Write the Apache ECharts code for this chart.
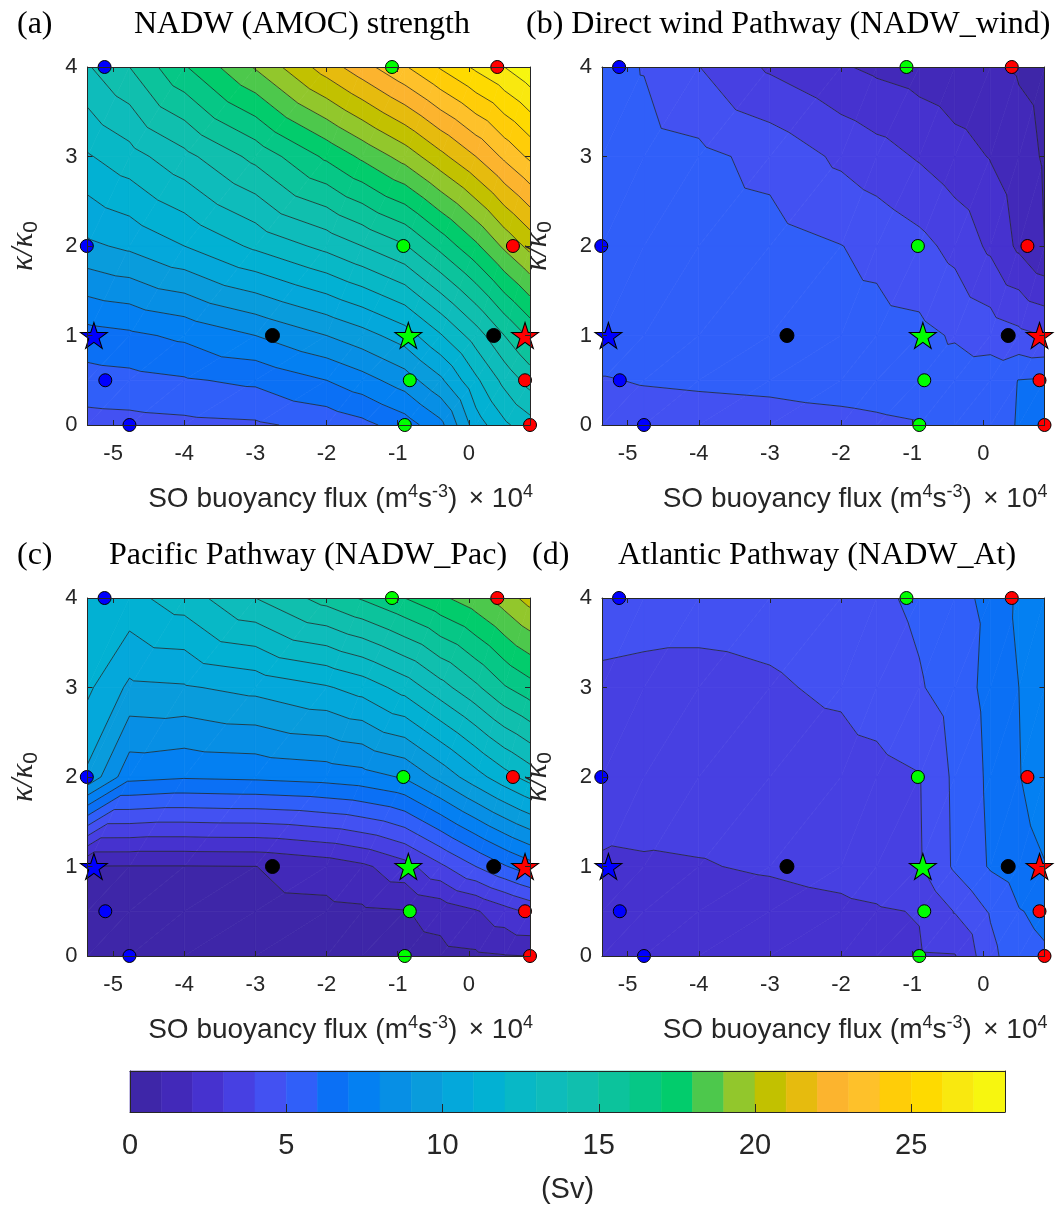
<!DOCTYPE html>
<html><head><meta charset="utf-8">
<script src="https://cdn.jsdelivr.net/npm/echarts@6/dist/echarts.min.js"></script>
<style>html,body{margin:0;padding:0;background:#fff}#c{width:1057px;height:1205px}</style>
</head><body><div id="c"></div>
<script>
// ---------------- DATA ----------------
const xNodes = [-5.36, -4.77, -4, -3, -2, -1.5, -0.9, -0.4, 0.1, 0.5, 0.86];
const yNodes = [0, 0.5, 1, 2, 3, 4];
// rows follow yNodes (kappa/kappa0), columns follow xNodes (buoyancy flux)
const amocValues = [
  [4.6, 4.65, 4.75, 4.85, 5.3, 5.7, 6.5, 7.7, 10.5, 11.8, 12.6],
  [5.6, 5.7, 5.9, 6.2, 7.0, 7.6, 8.5, 9.8, 11.8, 13.3, 14.4],
  [6.6, 6.8, 7.2, 8.0, 9.0, 9.6, 10.5, 11.9, 13.5, 15.0, 16.2],
  [9.8, 10.2, 11.0, 12.2, 13.3, 14.0, 14.9, 16.3, 17.8, 19.2, 20.3],
  [11.9, 12.6, 13.7, 15.3, 17.2, 18.2, 19.4, 20.7, 22.0, 23.2, 24.2],
  [13.9, 15.0, 16.9, 19.1, 21.5, 22.6, 23.9, 25.1, 26.2, 27.0, 27.8]
];
const windValues = [
  [4.6, 4.65, 4.7, 4.75, 4.82, 4.88, 4.96, 5.3, 5.7, 6.05, 6.3],
  [4.95, 5.05, 5.1, 5.15, 5.25, 5.3, 5.4, 5.5, 5.6, 6.02, 6.1],
  [5.5, 5.5, 5.5, 5.45, 5.4, 5.35, 5.25, 4.9, 4.55, 4.25, 3.98],
  [5.6, 5.6, 5.55, 5.4, 5.02, 4.75, 4.3, 3.7, 2.8, 1.8, 1.0],
  [5.5, 5.45, 5.25, 4.7, 3.8, 3.4, 2.9, 2.4, 1.95, 1.4, 0.9],
  [5.4, 4.95, 4.02, 2.85, 2.1, 1.8, 1.55, 1.3, 1.1, 0.9, 0.7]
];
const pacValues = [
  [0.45, 0.45, 0.45, 0.5, 0.55, 0.6, 0.65, 0.75, 0.85, 0.95, 1.0],
  [0.7, 0.7, 0.7, 0.72, 0.78, 0.85, 0.95, 1.3, 1.9, 2.6, 3.2],
  [0.97, 0.96, 0.96, 0.99, 1.4, 1.8, 2.6, 3.8, 5.0, 5.9, 6.6],
  [9.8, 7.3, 7.1, 7.2, 7.4, 7.6, 8.1, 9.3, 10.6, 11.6, 12.4],
  [11.2, 9.8, 9.9, 10.3, 10.9, 11.4, 12.4, 13.6, 14.8, 15.9, 16.6],
  [11.3, 11.7, 12.5, 14.0, 15.4, 16.1, 17.0, 17.8, 18.6, 19.5, 20.4]
];
const atlValues = [
  [2.4, 2.4, 2.4, 2.5, 2.65, 2.75, 2.9, 2.95, 4.7, 5.7, 5.9],
  [2.5, 2.5, 2.55, 2.65, 2.8, 2.9, 3.05, 4.05, 5.1, 5.95, 6.2],
  [2.85, 2.9, 2.95, 3.1, 3.3, 3.5, 3.9, 5.15, 6.1, 6.5, 6.95],
  [3.7, 3.5, 3.45, 3.5, 3.6, 3.7, 3.95, 5.2, 6.2, 6.95, 7.6],
  [3.85, 3.8, 3.8, 3.9, 4.15, 4.45, 4.9, 5.5, 6.3, 7.0, 7.6],
  [4.35, 4.3, 4.25, 4.3, 4.5, 4.8, 5.2, 5.75, 6.2, 7.2, 7.8]
];
// experiments (buoyancy flux, kappa/kappa0)
const blueCircles = [[-5.12, 4], [-5.37, 2], [-5.11, 0.5], [-4.77, 0]];
const blueStar = [[-5.27, 1]];
const blackDots = [[-2.76, 1], [0.35, 1]];
const greenCircles = [[-1.08, 4], [-0.92, 2], [-0.83, 0.5], [-0.9, 0]];
const greenStar = [[-0.85, 1]];
const redCircles = [[0.4, 4], [0.62, 2], [0.79, 0.5], [0.86, 0]];
const redStar = [[0.79, 1]];
// colour levels (Sv), one colour per 1-Sv band
const colorbarTicks = [0, 5, 10, 15, 20, 25];
const bandColors = ['#3e26a8','#4229b9','#4632cf','#4740e2','#4351f2','#305ff9','#0b70f5','#0480f2','#078fe5','#099cdc','#04a8db','#02b1d3','#08b8c6','#0ebcbb','#10bfae','#0cc39c','#06c786','#02cc6c','#4dc84c','#92c72c','#c2c100','#e6bb0e','#fcb42e','#fec12a','#ffcd08','#feda00','#f9e80f','#f7f60f'];
const titles = [['(a)', 'NADW (AMOC) strength'], ['(b) Direct wind Pathway (NADW_wind)', ''], ['(c)', 'Pacific Pathway (NADW_Pac)'], ['(d)', 'Atlantic Pathway (NADW_At)']];

// ---------------- RENDERING ----------------
const fields = [amocValues, windValues, pacValues, atlValues];
const panels = [
  {left: 87.5, top: 67}, {left: 602, top: 67},
  {left: 87.5, top: 598}, {left: 602, top: 598}
];
const PW = 442.5, PH = 358;
const AX = '#262626';
const XMIN = -5.36, XMAX = 0.86;
const NL = bandColors.length;

function clip(pts, f) {
  const out = [];
  for (let i = 0; i < pts.length; i++) {
    const a = pts[i], b = pts[(i + 1) % pts.length];
    const fa = f(a.v), fb = f(b.v);
    if (fa >= 0) out.push(a);
    if ((fa >= 0) !== (fb >= 0)) {
      const t = fa / (fa - fb);
      out.push({x: a.x + t * (b.x - a.x), y: a.y + t * (b.y - a.y), v: a.v + t * (b.v - a.v)});
    }
  }
  return out;
}
function cellTris(api, field) {
  const i = api.value(2), j = api.value(3);
  const P = (a, b) => { const c = api.coord([xNodes[a], yNodes[b]]); return {x: c[0], y: c[1], v: field[b][a]}; };
  const p00 = P(i, j), p10 = P(i + 1, j), p01 = P(i, j + 1), p11 = P(i + 1, j + 1);
  return [[p00, p10, p11], [p00, p11, p01]];
}
function fillRenderer(field) {
  return function (params, api) {
    const children = [];
    for (const t of cellTris(api, field)) {
      for (let k = 0; k < NL; k++) {
        let poly = t;
        if (k > 0) poly = clip(poly, v => v - k);
        if (k < NL - 1 && poly.length) poly = clip(poly, v => (k + 1) - v);
        if (poly.length >= 3) children.push({type: 'polygon', shape: {points: poly.map(p => [p.x, p.y])},
          style: {fill: bandColors[k], stroke: bandColors[k], lineWidth: 0.7}});
      }
    }
    return {type: 'group', children};
  };
}
function lineRenderer(field) {
  return function (params, api) {
    const children = [];
    for (const t of cellTris(api, field)) {
      for (let L = 1; L < NL; L++) {
        const pts = [];
        for (let e = 0; e < 3; e++) {
          const a = t[e], b = t[(e + 1) % 3];
          if ((a.v >= L) !== (b.v >= L)) {
            const s = (L - a.v) / (b.v - a.v);
            pts.push([a.x + s * (b.x - a.x), a.y + s * (b.y - a.y)]);
          }
        }
        if (pts.length === 2) children.push({type: 'line', shape: {x1: pts[0][0], y1: pts[0][1], x2: pts[1][0], y2: pts[1][1]},
          style: {stroke: 'rgba(35,35,35,0.85)', lineWidth: 0.9}});
      }
    }
    return {type: 'group', children};
  };
}
const cellData = [];
for (let j = 0; j < yNodes.length - 1; j++)
  for (let i = 0; i < xNodes.length - 1; i++)
    cellData.push([(xNodes[i] + xNodes[i + 1]) / 2, (yNodes[j] + yNodes[j + 1]) / 2, i, j]);

const STAR = 'path://M50 0 L61.2 34.5 L97.6 34.5 L68.2 55.9 L79.4 90.5 L50 69.1 L20.6 90.5 L31.8 55.9 L2.4 34.5 L38.8 34.5 Z';
const markerSets = [
  {d: blueCircles, c: '#0000ff', s: 'circle', z: 13},
  {d: blueStar, c: '#0000ff', s: STAR, z: [27, 26]},
  {d: blackDots, c: '#000000', s: 'circle', z: 14},
  {d: greenCircles, c: '#00ff00', s: 'circle', z: 13},
  {d: greenStar, c: '#00ff00', s: STAR, z: [27, 26]},
  {d: redCircles, c: '#ff0000', s: 'circle', z: 13},
  {d: redStar, c: '#ff0000', s: STAR, z: [27, 26]}
];

const SANS = 'Liberation Sans, Arial, sans-serif';
const SERIF = 'Liberation Serif, Times New Roman, serif';
const nameRich = {
  t: {fontSize: 28, fontFamily: SANS, fontWeight: 'normal', color: AX},
  sp: {fontSize: 18, fontFamily: SANS, fontWeight: 'normal', color: AX, padding: [0, 0, 14, 0]},
  x: {fontSize: 26, fontFamily: SANS, fontWeight: 'normal', color: AX, padding: [0, 8, 0, 6]}
};
const grid = [], xAxis = [], yAxis = [], series = [], title = [];
panels.forEach((p, g) => {
  grid.push({left: p.left, top: p.top, width: PW, height: PH, containLabel: false});
  xAxis.push({type: 'value', gridIndex: g, min: XMIN, max: XMAX, position: 'bottom', z: 10,
    axisLine: {show: true, onZero: false, lineStyle: {color: AX, width: 1}},
    axisTick: {inside: true, length: 5, lineStyle: {color: AX}},
    splitLine: {show: false},
    axisLabel: {color: AX, fontSize: 22, fontFamily: SANS, margin: 18,
      formatter: v => (Math.abs(v - Math.round(v)) < 1e-6 ? String(Math.round(v)) : '')},
    name: '{t|SO buoyancy flux (m}{sp|4}{t|s}{sp|-3}{t|)}',
    nameLocation: 'middle', nameGap: 58,
    nameTextStyle: {color: AX, padding: [0, 12, 0, 0], rich: nameRich}
  });
  xAxis.push({type: 'value', gridIndex: g, min: XMIN, max: XMAX, position: 'top', z: 10,
    axisLine: {show: true, onZero: false, lineStyle: {color: AX, width: 1}},
    axisTick: {inside: true, length: 5, lineStyle: {color: AX}},
    splitLine: {show: false}, axisLabel: {show: false}});
  yAxis.push({type: 'value', gridIndex: g, min: 0, max: 4, interval: 1, position: 'left', z: 10,
    axisLine: {show: true, onZero: false, lineStyle: {color: AX, width: 1}},
    axisTick: {inside: true, length: 5, lineStyle: {color: AX}},
    splitLine: {show: false},
    axisLabel: {color: AX, fontSize: 22, fontFamily: SANS, margin: 10},
    name: '{k|κ/κ}{sb|0}', nameLocation: 'middle', nameGap: 46, nameRotate: 90,
    nameTextStyle: {rich: {
      k: {fontSize: 31, fontFamily: SERIF, fontStyle: 'italic', color: AX},
      sb: {fontSize: 21, fontFamily: SANS, color: AX, padding: [15, 0, 0, 0]}}}
  });
  yAxis.push({type: 'value', gridIndex: g, min: 0, max: 4, interval: 1, position: 'right', z: 10,
    axisLine: {show: true, onZero: false, lineStyle: {color: AX, width: 1}},
    axisTick: {inside: true, length: 5, lineStyle: {color: AX}},
    splitLine: {show: false}, axisLabel: {show: false}});
  // axis exponent label, right-aligned with the axis end
  title.push({text: '{x|×}{t|10}{sp|4}', right: 1057 - (p.left + PW) + 3, top: p.top + PH + 58, padding: 0,
    textStyle: {color: AX, fontWeight: 'normal', rich: nameRich}});
  const xi = 2 * g, yi = 2 * g;
  series.push({type: 'custom', xAxisIndex: xi, yAxisIndex: yi, data: cellData, encode: {x: 0, y: 1},
    renderItem: fillRenderer(fields[g]), clip: true, z: 1, silent: true});
  series.push({type: 'custom', xAxisIndex: xi, yAxisIndex: yi, data: cellData, encode: {x: 0, y: 1},
    renderItem: lineRenderer(fields[g]), clip: true, z: 2, silent: true});
  markerSets.forEach(m => series.push({type: 'scatter', xAxisIndex: xi, yAxisIndex: yi, data: m.d,
    symbol: m.s, symbolSize: m.z, clip: false, z: 5, silent: true,
    itemStyle: {color: m.c, borderColor: '#000', borderWidth: 1, opacity: 1}}));
});
// titles
const TS = {fontFamily: SERIF, fontSize: 32, fontWeight: 'normal', color: '#000'};
title.push({text: titles[0][0], left: 12, top: 4, textStyle: TS});
title.push({text: titles[0][1], left: 129, top: 4, textStyle: TS});
title.push({text: titles[1][0], left: 521, top: 4, textStyle: TS});
title.push({text: titles[2][0], left: 12, top: 535, textStyle: TS});
title.push({text: titles[2][1], left: 104, top: 535, textStyle: TS});
title.push({text: titles[3][0], left: 527, top: 535, textStyle: TS});
title.push({text: titles[3][1], left: 613, top: 535, textStyle: TS});

// colour bar
const cb = 4;
grid.push({left: 130, top: 1071, width: 875, height: 41, containLabel: false});
xAxis.push({type: 'value', gridIndex: cb, min: 0, max: NL, interval: 5, position: 'bottom', z: 10,
  axisLine: {show: true, onZero: false, lineStyle: {color: AX, width: 1}},
  axisTick: {inside: true, length: 8, lineStyle: {color: AX}},
  splitLine: {show: false},
  axisLabel: {color: AX, fontSize: 29, fontFamily: SANS, margin: 19,
    formatter: v => (colorbarTicks.indexOf(v) >= 0 ? String(v) : '')},
  name: '(Sv)', nameLocation: 'middle', nameGap: 63,
  nameTextStyle: {color: AX, fontSize: 29, fontFamily: SANS}});
xAxis.push({type: 'value', gridIndex: cb, min: 0, max: NL, position: 'top', z: 10,
  axisLine: {show: true, onZero: false, lineStyle: {color: AX, width: 1}},
  axisTick: {show: false}, splitLine: {show: false}, axisLabel: {show: false}});
yAxis.push({type: 'value', gridIndex: cb, min: 0, max: 1, position: 'left', z: 10,
  axisLine: {show: true, onZero: false, lineStyle: {color: AX, width: 1}},
  axisTick: {show: false}, splitLine: {show: false}, axisLabel: {show: false}});
yAxis.push({type: 'value', gridIndex: cb, min: 0, max: 1, position: 'right', z: 10,
  axisLine: {show: true, onZero: false, lineStyle: {color: AX, width: 1}},
  axisTick: {show: false}, splitLine: {show: false}, axisLabel: {show: false}});
series.push({type: 'custom', xAxisIndex: 8, yAxisIndex: 8, silent: true, z: 1,
  data: bandColors.map((c, k) => [k + 0.5, 0.5, k]), encode: {x: 0, y: 1},
  renderItem: function (params, api) {
    const k = api.value(2);
    const a = api.coord([k, 1]), b = api.coord([k + 1, 0]);
    return {type: 'rect', shape: {x: a[0], y: a[1], width: b[0] - a[0], height: b[1] - a[1]},
      style: {fill: bandColors[k], stroke: bandColors[k], lineWidth: 0.6}};
  }});

const chart = echarts.init(document.getElementById('c'), null, {renderer: 'canvas'});
chart.setOption({animation: false, backgroundColor: '#ffffff', title, grid, xAxis, yAxis, series});
</script>
</body></html>
